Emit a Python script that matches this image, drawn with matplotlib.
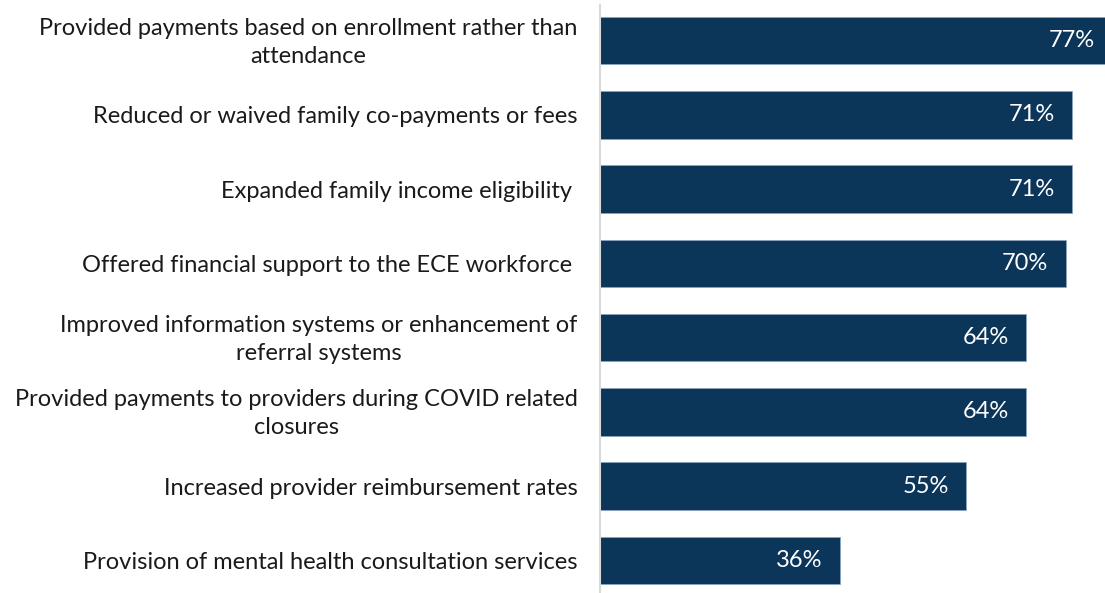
import matplotlib
matplotlib.use("Agg")
import matplotlib.pyplot as plt
import matplotlib.transforms as mtransforms

categories = [
    "Provided payments based on enrollment rather than\nattendance",
    "Reduced or waived family co-payments or fees",
    "Expanded family income eligibility ",
    "Offered financial support to the ECE workforce ",
    "Improved information systems or enhancement of\nreferral systems",
    "Provided payments to providers during COVID related\nclosures",
    "Increased provider reimbursement rates",
    "Provision of mental health consultation services",
]
values = [77, 71, 71, 70, 64, 64, 55, 36]
value_labels = ["77%", "71%", "71%", "70%", "64%", "64%", "55%", "36%"]

plt.rcParams["font.family"] = ["Lato", "DejaVu Sans"]

bar_color = "#0b3559"
W, H = 1105, 593
fig = plt.figure(figsize=(W / 100, H / 100), dpi=100)
ax = fig.add_axes([600 / W, 0.0, 1 - 600 / W, 588 / H])

n = len(categories)
ypos = [n - 1 - i for i in range(n)]
ax.barh(ypos, values, height=0.64, color=bar_color,
        edgecolor="#8aa3bd", linewidth=0.6)

for y, v, lab in zip(ypos, values, value_labels):
    ax.text(v - 2.6, y, lab, ha="right", va="center", color="white",
            fontsize=17)

ax.set_xlim(0, 75.9)
ax.set_ylim(-0.44, 7.48)
ax.set_yticks(ypos)
ax.set_yticklabels(categories, fontsize=17, color="#1a1a1a",
                   multialignment="center", linespacing=1.45)
ax.tick_params(axis="y", length=0, pad=16)
ax.set_xticks([])

# lift two-line labels a little so they sit level with their bar
lift = mtransforms.ScaledTranslation(0, 4 / 100, fig.dpi_scale_trans)
for lbl in ax.get_yticklabels():
    if "\n" in lbl.get_text():
        lbl.set_transform(lbl.get_transform() + lift)

for s in ("top", "right", "bottom"):
    ax.spines[s].set_visible(False)
ax.spines["left"].set_color("#d9d9d9")
ax.spines["left"].set_linewidth(1.5)

fig.savefig("out.png", dpi=100, facecolor="white")
